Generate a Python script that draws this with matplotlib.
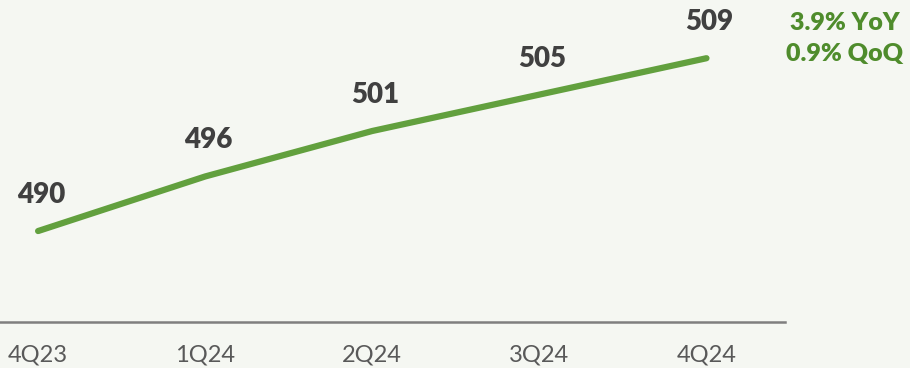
import matplotlib.pyplot as plt

quarters = ["4Q23", "1Q24", "2Q24", "3Q24", "4Q24"]
values = [490, 496, 501, 505, 509]
growth_notes = ["3.9% YoY", "0.9% QoQ"]

bg = "#f5f7f2"
green = "#62a03e"
note_green = "#4f8c2c"

fig = plt.figure(figsize=(9.10, 3.68), dpi=100, facecolor=bg)
ax = fig.add_axes([0, 0.125, 785 / 910, 0.875])
ax.set_facecolor(bg)

x = list(range(len(quarters)))
ax.plot(x, values, color=green, lw=4.5, solid_capstyle="round", zorder=3)

for xi, v in zip(x, values):
    ax.annotate(str(v), (xi, v), xytext=(3, 36), textcoords="offset pixels",
                ha="center", va="center", fontsize=20, fontweight="heavy",
                family="Lato", color="#404040")

ax.set_xlim(-0.228, 4.47)
ax.set_ylim(480, 515.4)
ax.set_xticks(x)
ax.set_xticklabels(quarters, family="Lato", fontsize=17, color="#595959")
ax.tick_params(axis="x", length=0, pad=16)
ax.set_yticks([])
for side in ["top", "right", "left"]:
    ax.spines[side].set_visible(False)
ax.spines["bottom"].set_color("#7f7f7f")
ax.spines["bottom"].set_linewidth(1.8)

fig.text(845 / 910, 1 - 23 / 368, growth_notes[0], ha="center", va="center",
         fontsize=18, fontweight="heavy", family="Lato", color=note_green)
fig.text(845 / 910, 1 - 54 / 368, growth_notes[1], ha="center", va="center",
         fontsize=18, fontweight="heavy", family="Lato", color=note_green)

fig.savefig("out.png", dpi=100, facecolor=bg)
